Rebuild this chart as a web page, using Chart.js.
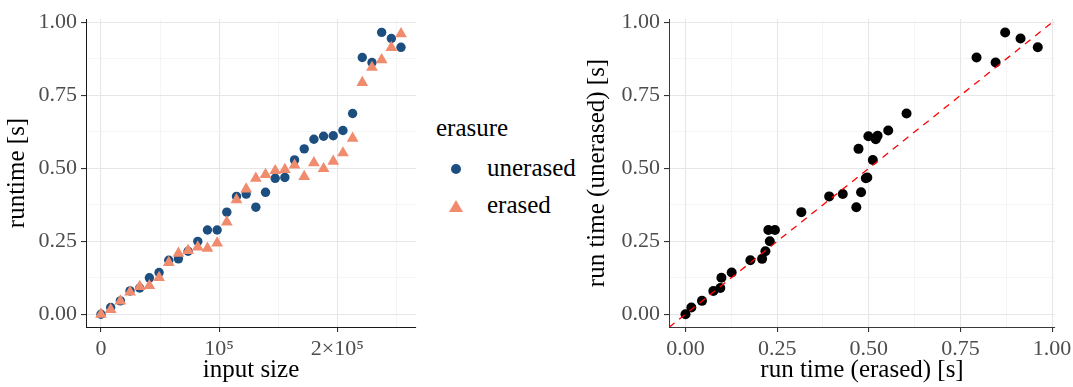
<!DOCTYPE html>
<html>
<head>
<meta charset="utf-8">
<script src="https://cdn.jsdelivr.net/npm/chart.js@4/dist/chart.umd.min.js"></script>
<style>
  body { margin: 0; background: #fff; width: 1073px; height: 387px; overflow: hidden; position: relative; font-family: "Liberation Serif", serif; }
  #cajaIzq { position: absolute; left: 0; top: 0; width: 426px; height: 387px; }
  #cajaDer { position: absolute; left: 580px; top: 0; width: 500px; height: 387px; }
  .ley { position: absolute; font-size: 25px; line-height: 30px; color: #000; white-space: nowrap; }
  #punto { position: absolute; left: 451px; top: 164px; width: 10px; height: 10px; border-radius: 50%; background: #1c4e80; }
  #tri { position: absolute; left: 449px; top: 200px; width: 0; height: 0; border-left: 7px solid transparent; border-right: 7px solid transparent; border-bottom: 12px solid #f08b6d; }
</style>
</head>
<body>
<div id="cajaIzq"><canvas id="graficoIzq"></canvas></div>
<div id="cajaDer"><canvas id="graficoDer"></canvas></div>
<div class="ley" style="left:436px;top:113px">erasure</div>
<div id="punto"></div>
<div class="ley" style="left:487px;top:153px">unerased</div>
<div id="tri"></div>
<div class="ley" style="left:487px;top:190px">erased</div>
<script>
// Datos
const tamanos = [0, 8192, 16384, 24576, 32768, 40960, 49152, 57344, 65536, 73728, 81920, 90112,
  98304, 106496, 114688, 122880, 131072, 139264, 147456, 155648, 163840, 172032, 180224, 188416,
  196608, 204800, 212992, 221184, 229376, 237568, 245760, 253952];
const sinBorrar = [0.00, 0.023, 0.046, 0.080, 0.090, 0.125, 0.143, 0.185, 0.190, 0.216, 0.250, 0.289,
  0.289, 0.350, 0.404, 0.412, 0.367, 0.418, 0.466, 0.469, 0.529, 0.567, 0.600, 0.610,
  0.612, 0.630, 0.688, 0.880, 0.863, 0.966, 0.945, 0.915];
const borrado = [0.00, 0.016, 0.045, 0.076, 0.095, 0.098, 0.126, 0.177, 0.209, 0.218, 0.230, 0.226,
  0.244, 0.316, 0.392, 0.429, 0.466, 0.479, 0.492, 0.496, 0.511, 0.472, 0.519, 0.499,
  0.524, 0.553, 0.603, 0.794, 0.846, 0.872, 0.914, 0.961];

const ticksTiempo = [0, 0.25, 0.5, 0.75, 1];
const menoresTiempo = [0.125, 0.375, 0.625, 0.875];
const etiquetasTiempo = ['0.00', '0.25', '0.50', '0.75', '1.00'];
const ticksTamano = [0, 100000, 200000];
const menoresTamano = [50000, 150000, 250000];
const etiquetasTamano = ['0', '10\u2075', '2\u00d710\u2075'];

const rangoTamano = [-12700, 266650];
const rangoY = [-0.0436, 1.012];
const rangoX2 = [-0.045, 1.008];

Chart.defaults.font.family = '"Liberation Serif", serif';
Chart.defaults.animation = false;

// Eje con lineas mayores y menores al estilo ggplot
function eje(rango, mayores, menores, etiquetas, titulo, colorBorde, ancho, alto) {
  return {
    type: 'linear',
    min: rango[0],
    max: rango[1],
    afterBuildTicks: function(ax) {
      ax.ticks = mayores.concat(menores).map(v => ({ value: v }));
    },
    afterFit: function(ax) {
      if (ancho) ax.width = ancho;
      if (alto) ax.height = alto;
    },
    ticks: {
      autoSkip: false, maxRotation: 0, padding: 4,
      color: '#4d4d4d', font: { size: 22 },
      callback: function(v) {
        const i = mayores.indexOf(v);
        return i >= 0 ? etiquetas[i] : '';
      }
    },
    grid: {
      color: ctx => mayores.includes(ctx.tick.value) ? '#e6e6e6' : '#f1f1f1',
      lineWidth: ctx => mayores.includes(ctx.tick.value) ? 1.1 : 0.7,
      tickColor: ctx => mayores.includes(ctx.tick.value) ? '#333' : 'rgba(0,0,0,0)',
      tickLength: 5
    },
    border: { display: true, color: colorBorde, width: 1 },
    title: { display: true, text: titulo, color: '#000', font: { size: 25 }, padding: 2 }
  };
}

// Grafico izquierdo: tiempo contra tamano de entrada
const ctxIzq = document.getElementById('graficoIzq').getContext('2d');
const graficoIzq = new Chart(ctxIzq, {
  type: 'scatter',
  data: {
    datasets: [{
      label: 'erased',
      order: 0,
      data: tamanos.map((t, i) => ({ x: t, y: borrado[i] })),
      pointStyle: 'triangle',
      pointRadius: 6.8,
      pointBorderWidth: 0,
      backgroundColor: '#f08b6d'
    }, {
      label: 'unerased',
      order: 1,
      data: tamanos.map((t, i) => ({ x: t, y: sinBorrar[i] })),
      pointStyle: 'circle',
      pointRadius: 4.7,
      pointBorderWidth: 0,
      backgroundColor: '#1c4e80'
    }]
  },
  options: {
    responsive: true,
    maintainAspectRatio: false,
    layout: { padding: { top: 19, right: 10, bottom: 0, left: 0 } },
    plugins: { legend: { display: false }, tooltip: { enabled: false } },
    scales: {
      x: eje(rangoTamano, ticksTamano, menoresTamano, etiquetasTamano, 'input size', '#1a1a1a', null, 60),
      y: eje(rangoY, ticksTiempo, menoresTiempo, etiquetasTiempo, 'runtime [s]', '#1a1a1a', 86, null)
    }
  }
});

// Grafico derecho: borrado contra sin borrar, con la diagonal
const ctxDer = document.getElementById('graficoDer').getContext('2d');
const graficoDer = new Chart(ctxDer, {
  type: 'scatter',
  data: {
    datasets: [{
      type: 'line',
      label: 'y = x',
      order: 0,
      data: [{ x: rangoX2[0], y: rangoX2[0] }, { x: rangoX2[1], y: rangoX2[1] }],
      borderColor: '#ff0000',
      borderWidth: 1.3,
      borderDash: [7, 6],
      pointRadius: 0,
      fill: false
    }, {
      label: 'runs',
      order: 1,
      data: borrado.map((b, i) => ({ x: b, y: sinBorrar[i] })),
      pointStyle: 'circle',
      pointRadius: 5,
      pointBorderWidth: 0,
      backgroundColor: '#000000'
    }]
  },
  options: {
    responsive: true,
    maintainAspectRatio: false,
    layout: { padding: { top: 19, right: 25, bottom: 0, left: 0 } },
    plugins: { legend: { display: false }, tooltip: { enabled: false } },
    scales: {
      x: eje(rangoX2, ticksTiempo, menoresTiempo, etiquetasTiempo, 'run time (erased) [s]', '#3a3a3a', null, 60),
      y: eje(rangoY, ticksTiempo, menoresTiempo, etiquetasTiempo, 'run time (unerased) [s]', '#3a3a3a', 89, null)
    }
  }
});
</script>
</body>
</html>
